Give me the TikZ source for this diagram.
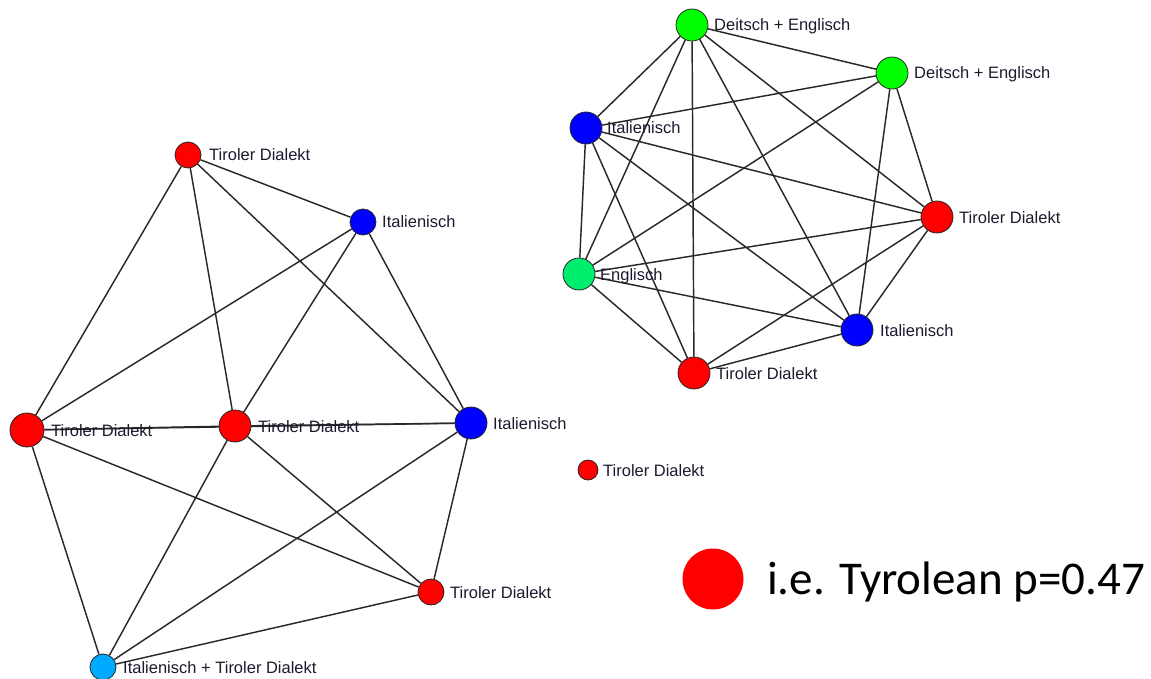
\documentclass[tikz,border=0pt]{standalone}
\usepackage{fontspec}
\setmainfont{Liberation Sans}
\newfontfamily\legendfont{Carlito}
\pgfdeclarelayer{bg}
\pgfsetlayers{bg,main}
\definecolor{nred}{RGB}{255,0,0}
\definecolor{nblue}{RGB}{0,0,255}
\definecolor{ngreen}{RGB}{0,255,0}
\definecolor{nmint}{RGB}{0,238,110}
\definecolor{nsky}{RGB}{0,170,255}
\definecolor{linkcol}{RGB}{40,40,40}
\definecolor{labelcol}{RGB}{30,25,45}
\tikzset{
  vert/.style={circle, draw=black!85, line width=0.8pt, inner sep=0pt, minimum size=#1},
  lbl/.style={anchor=base west, inner sep=0pt, text=labelcol, font=\fontsize{16.5}{18}\selectfont},
  link/.style={draw=linkcol, line width=1.45pt}
}
\begin{document}
\begin{tikzpicture}[x=1pt, y=-1pt]
\useasboundingbox (0,0) rectangle (1151,679);
% left graph
\node[vert=26pt, fill=nred]  (A) at (188,155) {};
\node[vert=26pt, fill=nblue] (B) at (363,222) {};
\node[vert=34pt, fill=nred]  (C) at (27,430) {};
\node[vert=32pt, fill=nred]  (D) at (235,426) {};
\node[vert=32pt, fill=nblue] (E) at (471,423) {};
\node[vert=26pt, fill=nred]  (F) at (431,592) {};
\node[vert=26pt, fill=nsky]  (G) at (103,667) {};
% right graph
\node[vert=32pt, fill=ngreen] (H) at (692,25) {};
\node[vert=32pt, fill=ngreen] (I) at (892,73) {};
\node[vert=32pt, fill=nblue]  (J) at (586,128) {};
\node[vert=32pt, fill=nred]   (K) at (937,217) {};
\node[vert=32pt, fill=nmint]  (L) at (579,274) {};
\node[vert=32pt, fill=nblue]  (M) at (857,330) {};
\node[vert=32pt, fill=nred]   (N) at (694,373) {};
% isolated
\node[vert=20pt, fill=nred] (O) at (588,470) {};
% legend
\node[circle, fill=nred, inner sep=0pt, minimum size=61pt] (P) at (713,579) {};
\node[anchor=base west, inner sep=0pt, font=\legendfont\fontsize{47}{50}\selectfont] (PT) at (767,594) {i.e. Tyrolean p=0.47};

\begin{pgfonlayer}{bg}
\foreach \a/\b in {A/B,A/C,A/D,A/E,B/C,B/D,B/E,C/D,C/E,C/F,C/G,D/E,D/F,D/G,E/F,E/G,F/G,
  H/I,H/J,H/L,H/N,H/M,H/K,I/J,I/L,I/M,I/K,J/L,J/N,J/M,J/K,L/K,L/M,L/N,K/M,K/N,M/N}
  \draw[link] (\a) -- (\b);
\end{pgfonlayer}

% labels
\node[lbl] (lA) at (209,161) {Tiroler Dialekt};
\node[lbl] (lB) at (382,228) {Italienisch};
\node[lbl] (lC) at (51,436) {Tiroler Dialekt};
\node[lbl] (lD) at (258,432) {Tiroler Dialekt};
\node[lbl] (lE) at (493,429) {Italienisch};
\node[lbl] (lF) at (450,598) {Tiroler Dialekt};
\node[lbl] (lG) at (123,673) {Italienisch + Tiroler Dialekt};
\node[lbl] (lH) at (714,31) {Deitsch + Englisch};
\node[lbl] (lI) at (914,79) {Deitsch + Englisch};
\node[lbl] (lJ) at (607,134) {Italienisch};
\node[lbl] (lK) at (959,223) {Tiroler Dialekt};
\node[lbl] (lL) at (600,280) {Englisch};
\node[lbl] (lM) at (880,336) {Italienisch};
\node[lbl] (lN) at (716,379) {Tiroler Dialekt};
\node[lbl] (lO) at (603,476) {Tiroler Dialekt};
\end{tikzpicture}
\end{document}
